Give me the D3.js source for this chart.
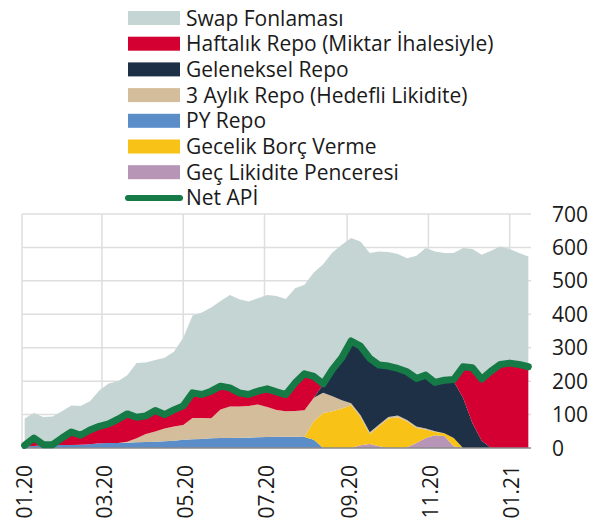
<!DOCTYPE html>
<html>
<head>
<meta charset="utf-8">
<script src="https://cdn.jsdelivr.net/npm/d3@7"></script>
<style>
  body { margin: 0; background: #fff; }
  text { font-family: "Open Sans", "Noto Sans", sans-serif; fill: #1a1a1a; }
</style>
</head>
<body>
<svg id="chart" width="610" height="520"></svg>
<script>
// weekly points (Fridays), 03.01.2020 .. 15.01.2021
const dates = d3.range(55).map(i => d3.timeDay.offset(new Date(2020, 0, 3), 7 * i))

const pyRepo =     [5,6,8,9,9,9,10,11,14,15,15,16,17,18,19,20,22,25,26,27,29,30,30,31,31,32,33,34,34,34,33,25,0,0,0,0,0,0,0,0,0,0,0,0,0,0,0,0,0,0,0,0,0,0,0]
const gecLikidite = [0,0,0,0,0,0,0,0,0,0,0,0,0,0,0,0,0,0,0,0,0,0,0,0,0,0,0,0,0,0,0,0,0,0,0,0,8,12,5,0,0,2,15,30,38,36,5,0,0,0,0,0,0,0,0]
const gecelik =    [0,0,0,0,0,0,0,0,0,0,0,0,0,0,0,0,0,0,0,0,0,0,0,0,0,0,0,0,0,0,0,55,105,110,118,128,85,30,60,88,92,78,45,25,10,8,25,0,0,0,0,0,0,0,0]
const ucAylik =    [0,0,0,0,0,0,0,0,0,0,0,3,12,24,30,38,42,44,64,63,60,85,94,93,95,98,90,80,76,77,80,70,60,45,25,6,6,5,5,5,5,4,4,3,2,0,0,0,0,0,0,0,0,0,0]
const geleneksel = [0,0,0,0,0,0,0,0,0,0,0,0,0,0,0,0,0,0,0,0,0,0,0,0,0,0,0,0,0,0,0,0,25,80,127,181,201,218,175,150,138,141,141,157,145,156,170,150,75,22,0,0,0,0,0]
const haftalik =   [0,14,0,0,15,32,22,38,45,50,64,76,56,48,56,36,44,50,68,64,74,63,50,35,28,33,48,48,44,77,102,56,0,0,0,0,0,0,0,0,0,0,0,0,0,0,0,90,160,183,228,248,252,248,240]
const swap =       [83,85,85,85,86,86,94,91,113,128,121,123,169,166,158,176,180,211,238,251,257,262,284,286,284,285,287,293,292,290,273,319,360,350,338,313,318,318,343,343,345,343,370,383,393,383,383,358,360,373,362,355,343,335,333]
const netApi =     [8,30,10,10,30,48,38,54,65,72,86,102,92,96,112,100,114,126,165,160,170,185,180,165,160,170,177,168,160,195,222,214,192,235,270,320,305,268,248,245,238,228,208,218,196,203,205,243,240,206,230,250,254,250,243]

const yTicks = [0, 100, 200, 300, 400, 500, 600, 700]
const xTicks = d3.range(7).map(i => new Date(2020, 2 * i, 1))

const series = [
    {key: "py", name: "PY Repo", values: pyRepo, color: "#5b8dc9"},
    {key: "gec", name: "Geç Likidite Penceresi", values: gecLikidite, color: "#b795b7"},
    {key: "gecelik", name: "Gecelik Borç Verme", values: gecelik, color: "#f8c216"},
    {key: "uc", name: "3 Aylık Repo (Hedefli Likidite)", values: ucAylik, color: "#d4bd9a"},
    {key: "gel", name: "Geleneksel Repo", values: geleneksel, color: "#1d3046"},
    {key: "haf", name: "Haftalık Repo (Miktar İhalesiyle)", values: haftalik, color: "#d50032"},
    {key: "swap", name: "Swap Fonlaması", values: swap, color: "#c5d5d3"}
]
const legendOrder = ["swap", "haf", "gel", "uc", "py", "gecelik", "gec"]
const lineColor = "#167a46"
const fontSize = 21

const margin = {left: 22, right: 79, top: 214, bottom: 72}
const width = 610, height = 520

const svg = d3.select("#chart")

const x = d3.scaleTime()
    .domain([new Date(2020, 0, 1), new Date(2021, 0, 17)])
    .range([margin.left, width - margin.right])
const y = d3.scaleLinear()
    .domain([0, 700])
    .range([height - margin.bottom, margin.top])

// grid
svg.append("g")
    .selectAll("line")
    .data(yTicks.slice(1))
    .join("line")
    .attr("x1", margin.left).attr("x2", width - margin.right)
    .attr("y1", d => y(d)).attr("y2", d => y(d))
    .attr("stroke", "#dedede").attr("stroke-width", 1.5)
svg.append("g")
    .selectAll("line")
    .data(xTicks)
    .join("line")
    .attr("x1", d => x(d)).attr("x2", d => x(d))
    .attr("y1", y(700)).attr("y2", y(0))
    .attr("stroke", "#dedede").attr("stroke-width", 1.5)

// stacked areas
const table = dates.map((d, i) => {
    const row = {date: d}
    series.forEach(s => row[s.key] = s.values[i])
    return row
})
const stacked = d3.stack().keys(series.map(s => s.key))(table)

const area = d3.area()
    .x(d => x(d.data.date))
    .y0(d => y(d[0]))
    .y1(d => y(d[1]))

svg.append("g")
    .selectAll("path")
    .data(stacked)
    .join("path")
    .attr("d", area)
    .attr("fill", (d, i) => series[i].color)

// axis line
svg.append("line")
    .attr("x1", margin.left).attr("x2", width - margin.right)
    .attr("y1", y(0)).attr("y2", y(0))
    .attr("stroke", "#8a8a8a").attr("stroke-width", 1.5)

// net API line
const line = d3.line()
    .x((d, i) => x(dates[i]))
    .y(d => y(d))
svg.append("path")
    .datum(netApi)
    .attr("d", line)
    .attr("fill", "none")
    .attr("stroke", lineColor)
    .attr("stroke-width", 7)
    .attr("stroke-linejoin", "round")
    .attr("stroke-linecap", "round")

// y labels on the right
svg.append("g")
    .selectAll("text")
    .data(yTicks)
    .join("text")
    .attr("x", 552)
    .attr("y", d => y(d))
    .attr("dy", "0.36em")
    .attr("font-size", fontSize)
    .text(d => d)

// x labels, rotated
svg.append("g")
    .selectAll("text")
    .data(xTicks)
    .join("text")
    .attr("transform", d => `translate(${x(d) + 2},465) rotate(-90)`)
    .attr("text-anchor", "end")
    .attr("dy", "0.36em")
    .attr("font-size", fontSize)
    .text(d => d3.timeFormat("%m.%y")(d))

// legend
const legend = svg.append("g")
legendOrder.forEach((k, i) => {
    const s = series.find(s => s.key === k)
    const cy = 18 + i * 25.7
    legend.append("rect")
        .attr("x", 128).attr("y", cy - 7)
        .attr("width", 52).attr("height", 14)
        .attr("fill", s.color)
    legend.append("text")
        .attr("x", 186).attr("y", cy)
        .attr("dy", "0.36em")
        .attr("font-size", fontSize)
        .text(s.name)
})
const ly = 18 + 7 * 25.7
legend.append("line")
    .attr("x1", 128).attr("x2", 180)
    .attr("y1", ly).attr("y2", ly)
    .attr("stroke", lineColor).attr("stroke-width", 6)
    .attr("stroke-linecap", "round")
legend.append("text")
    .attr("x", 186).attr("y", ly)
    .attr("dy", "0.36em")
    .attr("font-size", fontSize)
    .text("Net APİ")
</script>
</body>
</html>
